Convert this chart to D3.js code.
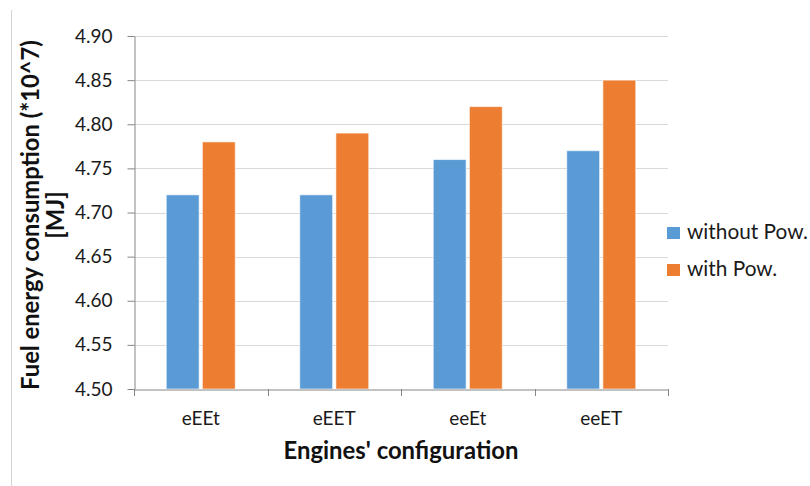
<!DOCTYPE html>
<html>
<head>
<meta charset="utf-8">
<script src="https://cdn.jsdelivr.net/npm/d3@7"></script>
<style>
  html, body { margin: 0; padding: 0; background: #fff; }
  svg { display: block; font-family: Lato, "Open Sans", sans-serif; }
</style>
</head>
<body>
<svg id="chart" width="810" height="486"></svg>
<script>
const categories = ["eEEt", "eEET", "eeEt", "eeET"];
const seriesNames = ["without Pow.", "with Pow."];
const withoutPow = [4.72, 4.72, 4.76, 4.77];
const withPow = [4.78, 4.79, 4.82, 4.85];
const yTicks = [4.50, 4.55, 4.60, 4.65, 4.70, 4.75, 4.80, 4.85, 4.90];
const colors = ["#5B9BD5", "#ED7D31"];
const yTitleLines = ["Fuel energy consumption (*10^7)", "[MJ]"];
const xTitle = "Engines' configuration";

const seriesValues = [withoutPow, withPow];
const svg = d3.select("#chart");

const plotL = 134, plotR = 668, plotT = 36, plotB = 389;

// left frame line
svg.append("line")
  .attr("x1", 11.5).attr("x2", 11.5).attr("y1", 10).attr("y2", 486)
  .attr("stroke", "#d4d4d4").attr("stroke-width", 1);

const y = d3.scaleLinear().domain([4.50, 4.90]).range([plotB, plotT]);
const x0 = d3.scaleBand().domain(categories).range([plotL, plotR]).paddingInner(0).paddingOuter(0);
const groupW = 69;
const x1 = d3.scaleBand().domain(seriesNames).range([0, groupW]).paddingInner(0.09);

// gridlines
svg.append("g").selectAll("line").data(yTicks.slice(1)).join("line")
  .attr("x1", plotL).attr("x2", plotR)
  .attr("y1", d => Math.round(y(d)) + 0.5).attr("y2", d => Math.round(y(d)) + 0.5)
  .attr("stroke", "#d9d9d9").attr("stroke-width", 1);

// bars
const groups = svg.append("g").selectAll("g").data(categories).join("g")
  .attr("transform", c => `translate(${x0(c) + x0.bandwidth() / 2 - groupW / 2},0)`);
groups.selectAll("rect")
  .data((c, i) => seriesNames.map((s, j) => ({ s, j, v: seriesValues[j][i] })))
  .join("rect")
  .attr("x", d => x1(d.s))
  .attr("width", x1.bandwidth())
  .attr("y", d => y(d.v))
  .attr("height", d => y(4.50) - y(d.v))
  .attr("fill", d => colors[d.j])
  .attr("stroke", "rgba(255,255,255,0.6)")
  .attr("stroke-width", 1);

// y axis
const yAxis = svg.append("g")
  .attr("transform", `translate(${plotL + 0.5},0)`)
  .call(d3.axisLeft(y).tickValues(yTicks).tickFormat(d3.format(".2f")).tickSize(7).tickPadding(15).tickSizeOuter(0));
yAxis.select(".domain").attr("stroke", "#868686");
yAxis.selectAll(".tick line").attr("stroke", "#868686");
yAxis.selectAll(".tick text").attr("fill", "#1a1a1a").attr("font-size", 19)
  .attr("font-family", "Lato, sans-serif");

// x axis
const xAxis = svg.append("g")
  .attr("transform", `translate(0,${plotB + 0.5})`)
  .call(d3.axisBottom(x0).tickSize(0).tickPadding(22).tickSizeOuter(0));
xAxis.select(".domain").attr("stroke", "#868686");
xAxis.selectAll(".tick text").attr("fill", "#1a1a1a").attr("font-size", 19)
  .attr("font-family", "Lato, sans-serif");
// category separator ticks
svg.append("g").selectAll("line")
  .data(categories.map(c => x0(c)).concat([x0.range()[1]]))
  .join("line")
  .attr("x1", d => Math.round(d) + 0.5).attr("x2", d => Math.round(d) + 0.5)
  .attr("y1", plotB).attr("y2", plotB + 7)
  .attr("stroke", "#868686");

function fit(sel, target) {
  const fs = parseFloat(sel.attr("font-size"));
  const w = sel.node().getComputedTextLength();
  sel.attr("font-size", fs * target / w);
}

// x title
const xt = svg.append("text")
  .attr("x", (plotL + plotR) / 2).attr("y", 459)
  .attr("text-anchor", "middle").attr("font-weight", "bold")
  .attr("font-size", 22).attr("fill", "#111").text(xTitle);
fit(xt, 235);

// y title
const yt = svg.append("g").attr("transform", `translate(0,215) rotate(-90)`);
const yl1 = yt.append("text").attr("x", 0).attr("y", 39)
  .attr("text-anchor", "middle").attr("font-weight", "bold")
  .attr("font-size", 22).attr("fill", "#111").text(yTitleLines[0]);
fit(yl1, 350);
yt.append("text").attr("x", 0).attr("y", 64)
  .attr("text-anchor", "middle").attr("font-weight", "bold")
  .attr("font-size", yl1.attr("font-size")).attr("fill", "#111").text(yTitleLines[1]);

// legend
const legend = svg.append("g").selectAll("g").data(seriesNames).join("g")
  .attr("transform", (d, i) => `translate(667,${227 + i * 37})`);
legend.append("rect").attr("width", 13).attr("height", 12)
  .attr("fill", (d, i) => colors[i]);
const lt = legend.append("text").attr("x", 20).attr("y", 12)
  .attr("font-size", 18).attr("fill", "#1a1a1a").text(d => d);
fit(d3.select(lt.nodes()[0]), 121);
d3.select(lt.nodes()[1]).attr("font-size", d3.select(lt.nodes()[0]).attr("font-size"));
</script>
</body>
</html>
